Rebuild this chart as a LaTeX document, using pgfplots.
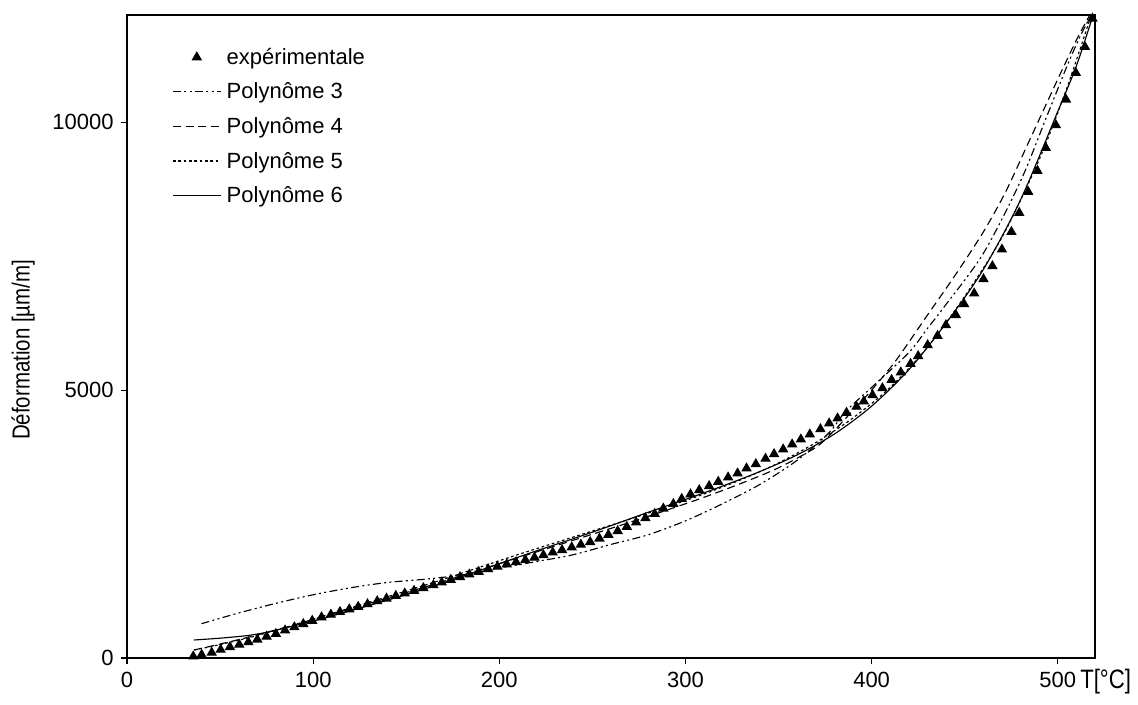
\documentclass[border=0pt]{standalone}
\usepackage{pgfplots}
\pgfplotsset{compat=1.18}
\usepackage{fontspec}
\usepackage{graphicx}
\setmainfont{Liberation Sans}

\pgfplotsset{
  linelegend/.style={legend image code/.code={\draw[##1] (0pt,0pt) -- (36pt,0pt);}},
  marklegend/.style={legend image code/.code={\draw[mark repeat=2,mark phase=2,##1] plot coordinates {(0pt,0pt) (18pt,0pt) (36pt,0pt)};}},
}

\pgfplotstableread{
x y
35.6 30
40.1 60
45.5 100
50.3 155
55.3 205
60.3 250
65.2 295
70.0 345
75.0 400
80.0 450
84.9 515
89.9 575
94.7 635
99.5 695
104.5 760
109.5 810
114.4 860
119.4 910
124.2 955
129.2 1005
134.4 1060
139.4 1110
144.4 1160
149.2 1205
154.2 1255
159.2 1305
164.6 1360
169.1 1410
173.9 1460
178.9 1510
183.9 1560
188.9 1610
194.0 1660
199.0 1705
204.0 1750
209.0 1790
214.0 1830
218.9 1875
223.7 1920
228.7 1970
233.7 2015
238.9 2065
243.8 2115
248.8 2165
253.8 2230
258.6 2300
263.6 2370
268.5 2450
273.5 2530
278.5 2610
283.5 2690
288.1 2790
293.5 2875
298.0 2970
302.7 3055
307.4 3134
312.7 3209
317.6 3289
322.9 3371
328.0 3446
332.8 3539
337.8 3619
343.0 3720
347.6 3806
352.5 3894
357.3 3987
362.0 4080
366.8 4174
372.5 4272
377.2 4379
381.7 4472
386.5 4577
391.9 4690
395.8 4790
400.5 4907
405.8 5035
410.7 5190
415.7 5330
420.9 5490
425.0 5635
430.1 5840
435.4 6013
439.9 6213
445.3 6399
449.7 6605
455.1 6804
460.1 7071
464.9 7314
470.0 7625
475.1 7953
479.3 8308
484.1 8700
489.1 9091
493.6 9520
499.0 9944
504.4 10423
509.7 10920
514.6 11405
518.6 11934
}\exper

\pgfplotstableread{
x y
40 640
60 840
80 1020
100 1180
120 1310
140 1410
160 1470
180 1550
200 1680
220 1800
240 1930
260 2120
280 2300
300 2560
320 2880
340 3240
360 3690
377 4200
386 4600
400 5050
420 5700
430 6150
440 6600
460 7550
480 8900
494 10100
505 11050
512 11600
518 12000
}\polyA

\pgfplotstableread{
x y
36 150
50 260
70 430
90 620
110 820
130 1020
150 1220
170 1430
190 1650
210 1870
230 2090
250 2310
270 2530
290 2760
310 3000
330 3260
350 3550
370 3930
380 4250
390 4620
400 5000
413 5550
430 6400
445 7150
460 7950
472 8700
484 9600
494 10350
502 10950
511 11600
518 12050
}\polyB

\pgfplotstableread{
x y
36 150
50 250
70 420
90 620
110 830
130 1040
150 1250
170 1470
190 1700
210 1930
230 2150
250 2370
270 2590
290 2820
310 3060
330 3330
350 3640
370 4020
390 4480
410 5050
430 5800
450 6750
470 7850
490 9300
505 10650
518 12000
}\polyC

\pgfplotstableread{
x y
36 336
50 370
65 420
75 480
85 560
100 690
120 880
140 1080
160 1290
180 1520
200 1760
220 2000
240 2230
260 2470
280 2720
300 2960
320 3210
340 3480
360 3790
380 4180
400 4700
420 5380
440 6250
460 7250
480 8550
500 10200
510 11050
519 12000
}\polyD

\begin{document}
\begin{tikzpicture}
\begin{axis}[
  name=ax,
  scale only axis,
  width=726pt, height=482.25pt,
  xmin=0, xmax=520, ymin=0, ymax=12000,
  axis line style={line width=1pt},
  xtick={0,100,200,300,400,500},
  ytick={0,5000,10000},
  tick align=outside,
  major tick length=4.5pt,
  tick style={line width=0.8pt, black},
  xtick pos=bottom, ytick pos=left,
  scaled y ticks=false,
  /pgf/number format/1000 sep={},
  /pgf/number format/assume math mode=true,
  tick label style={font=\fontsize{16.5}{19}\selectfont},
  xticklabel style={yshift=-2.5pt},
  yticklabel style={xshift=-2pt},
  legend cell align=left,
  legend style={draw=none, fill=none, at={(rel axis cs:0.0465,0.953)}, anchor=north west,
    font=\fontsize{16.5}{19}\selectfont, row sep=8.4pt, inner sep=0pt,
    nodes={inner xsep=4pt}},
  linelegend,
  every axis plot/.append style={line width=0.85pt, black},
]
\addplot[only marks, mark=triangle*, mark size=3.7pt, marklegend]
  table[x=x,y=y]{\exper};
\addlegendentry{expérimentale}
\addplot[smooth, dash pattern=on 6pt off 2.5pt on 1.5pt off 2.5pt on 1.5pt off 2.5pt] table[x=x,y=y]{\polyA};
\addlegendentry{Polynôme 3}
\addplot[smooth, dash pattern=on 6pt off 3.5pt] table[x=x,y=y]{\polyB};
\addlegendentry{Polynôme 4}
\addplot[smooth, dash pattern=on 2pt off 2pt] table[x=x,y=y]{\polyC};
\addlegendentry{Polynôme 5}
\addplot[smooth] table[x=x,y=y]{\polyD};
\addlegendentry{Polynôme 6}
\end{axis}
\node[anchor=west, inner sep=0pt] at ([xshift=-11.25pt, yshift=-17.5pt]ax.south east)
  {\scalebox{0.83}[1]{\fontsize{20}{22}\selectfont T[°C]}};
\node[rotate=90, inner sep=0pt] at ([xshift=-78pt, yshift=-10pt]ax.west)
  {\scalebox{0.83}[1]{\fontsize{18.5}{21}\selectfont Déformation [µm/m]}};
\path ([shift={(-95.25pt,-34.5pt)}]ax.south west) rectangle ([shift={(32.25pt,11.25pt)}]ax.north east);
\end{tikzpicture}
\end{document}
